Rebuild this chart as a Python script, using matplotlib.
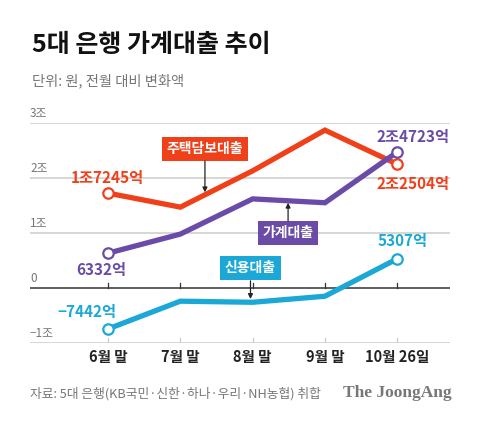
import matplotlib
matplotlib.use('Agg')
import matplotlib.pyplot as plt
import matplotlib.transforms as mtransforms

plt.rcParams['font.family'] = ['Noto Sans CJK KR', 'DejaVu Sans']
plt.rcParams['axes.unicode_minus'] = True

months = ['6월 말', '7월 말', '8월 말', '9월 말', '10월 26일']
mortgage = [1.7245, 1.47, 2.13, 2.87, 2.2504]   # 주택담보대출, 조 원
household = [0.6332, 0.98, 1.62, 1.55, 2.4723]  # 가계대출
credit = [-0.7442, -0.24, -0.26, -0.15, 0.5307]  # 신용대출
yticks = [-1, 0, 1, 2, 3]
ytick_labels = ['−1조', '0', '1조', '2조', '3조']

red = '#f0401a'
purple = '#6a4ca8'
cyan = '#1ba8d6'

fig = plt.figure(figsize=(4.8, 4.25), dpi=100)
ax = fig.add_axes([0.0625, 0.193, 0.875, 0.5176])
x = list(range(len(months)))

ax.set_xlim(-1.08, 4.73)
ax.set_ylim(-1, 3)
for s in ax.spines.values():
    s.set_visible(False)
ax.set_yticks([])
ax.set_xticks([])

# grid lines
for v in yticks:
    if v == 0:
        ax.axhline(v, color='#333333', lw=1.1, zorder=1)
    else:
        ax.axhline(v, color='#d6d6d6', lw=1.4, zorder=1)
trans = mtransforms.blended_transform_factory(ax.transAxes, ax.transData)
for v, lab in zip(yticks, ytick_labels):
    ax.text(0.0, v + 0.05, lab, transform=trans, ha='left', va='bottom',
            fontsize=8.5, color='#777777')

# small ticks
for xi in x:
    ax.plot([xi, xi], [0, 0.09], color='#333333', lw=0.9, zorder=1)
    ax.plot([xi, xi], [-1, -0.91], color='#cccccc', lw=0.9, zorder=1)

# month labels
for xi, m in zip(x, months):
    ax.text(xi, -1.25, m, ha='center', va='center', fontsize=10.5,
            color='#222222', fontweight='bold')

lw = 3.8
ax.plot(x, credit, color=cyan, lw=lw, zorder=3, solid_joinstyle='miter')
ax.plot(x, mortgage, color=red, lw=lw, zorder=3, solid_joinstyle='miter')
ax.plot(x, household, color=purple, lw=lw, zorder=4, solid_joinstyle='miter')
for series, c in [(credit, cyan), (mortgage, red), (household, purple)]:
    ax.plot([x[0], x[-1]], [series[0], series[-1]], 'o', ms=7.5, mfc='white',
            mec=c, mew=1.6, zorder=5, clip_on=False)

# value labels
vfont = dict(fontsize=11, fontweight='bold', ha='center', va='center')
ax.text(-0.01, 2.0, '1조7245억', color=red, **vfont)
ax.text(-0.1, 0.33, '6332억', color=purple, **vfont)
ax.text(-0.29, -0.44, '−7442억', color=cyan, **vfont)
ax.text(4.22, 2.74, '2조4723억', color=purple, **vfont)
ax.text(4.22, 1.89, '2조2504억', color=red, **vfont)
ax.text(4.08, 0.86, '5307억', color=cyan, **vfont)

# series name boxes with arrows
bfont = dict(fontsize=10, fontweight='bold', color='white', ha='center',
             va='center', zorder=6)
arrow = dict(arrowstyle='-|>', color='#222222', lw=0.9, mutation_scale=7,
             shrinkA=0, shrinkB=0)
ax.text(1.34, 2.53, '주택담보대출', bbox=dict(boxstyle='square,pad=0.35',
        fc=red, ec='none'), **bfont)
ax.annotate('', xy=(1.34, 1.74), xytext=(1.34, 2.31), arrowprops=arrow, zorder=6)
ax.text(2.49, 1.0, '가계대출', bbox=dict(boxstyle='square,pad=0.35',
        fc=purple, ec='none'), **bfont)
ax.annotate('', xy=(2.49, 1.55), xytext=(2.49, 1.22), arrowprops=arrow, zorder=6)
ax.text(1.97, 0.36, '신용대출', bbox=dict(boxstyle='square,pad=0.35',
        fc=cyan, ec='none'), **bfont)
ax.annotate('', xy=(1.97, -0.2), xytext=(1.97, 0.13), arrowprops=arrow, zorder=6)

# titles and footer
fig.text(32 / 480, 1 - 45 / 425, '5대 은행 가계대출 추이', fontsize=18,
         fontweight='heavy', color='#111111', ha='left', va='center')
fig.text(32 / 480, 1 - 81 / 425, '단위: 원, 전월 대비 변화액', fontsize=10.3,
         color='#777777', ha='left', va='center')
fig.text(30 / 480, 1 - 394 / 425, '자료: 5대 은행(KB국민·신한·하나·우리·NH농협) 취합',
         fontsize=9.2, color='#777777', ha='left', va='center')
fig.text(452 / 480, 1 - 393 / 425, 'The JoongAng', fontsize=12.5,
         fontweight='bold', family='Liberation Serif', color='#777777',
         ha='right', va='center')

fig.savefig('out.png', dpi=100)
